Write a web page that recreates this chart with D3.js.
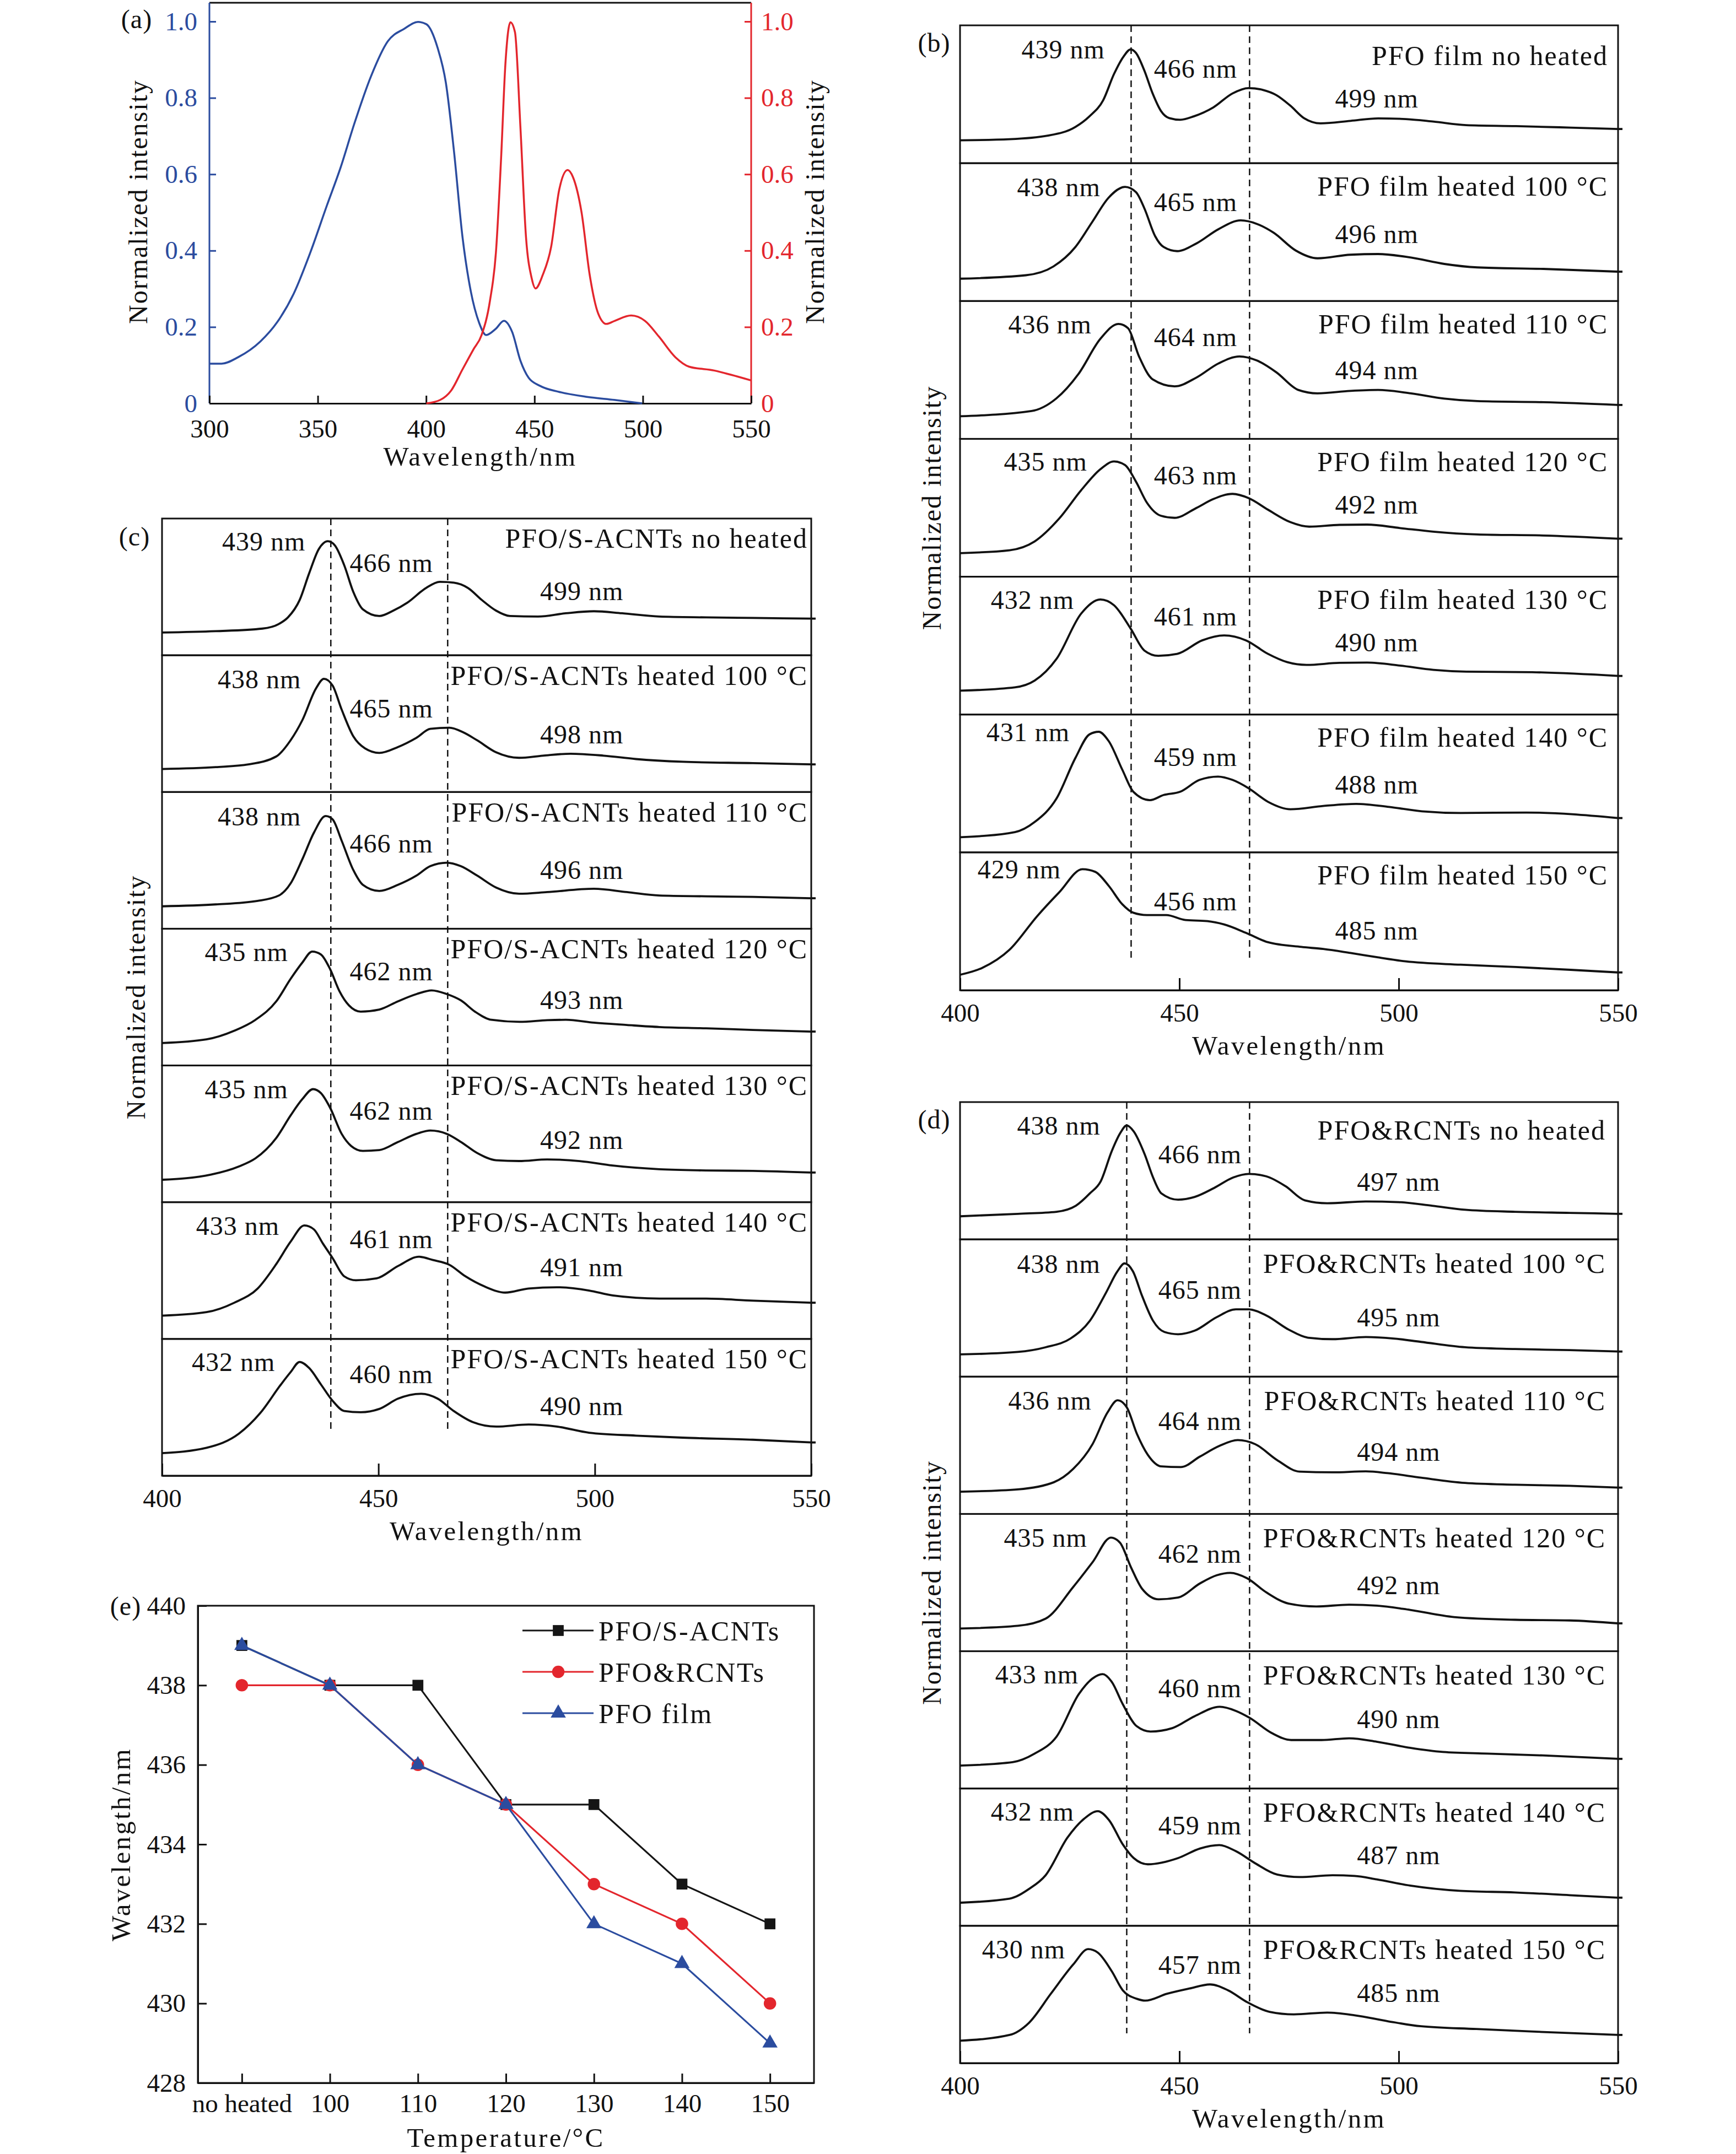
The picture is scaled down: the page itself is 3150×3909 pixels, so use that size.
<!DOCTYPE html>
<html>
<head>
<meta charset="utf-8">
<script src="https://cdn.jsdelivr.net/npm/d3@7"></script>
<style>
body { margin: 0; background: #fff; }
</style>
</head>
<body>
<svg></svg>
<script>
// ---- data ----
// (a) absorption (blue) and PL (red), normalized
const absorption = [[300,.104],[305.6,.104],[313.3,.121],[323.5,.162],[331.2,.212],[338.8,.286],[346.5,.394],[354.2,.518],[360.5,.617],[366.9,.733],[374.6,.857],[382.3,.948],[389.9,.981],[396.3,.999],[400.1,.993],[405.3,.931],[409.1,.84],[412.9,.658],[416.8,.435],[420.6,.294],[424.4,.212],[427.7,.179],[432.1,.195],[435.9,.216],[439.7,.187],[443.5,.112],[447.3,.067],[452.5,.046],[461.4,.03],[474.2,.017],[486.9,.009],[499.7,0]]
const emission = [[400.1,0],[406.5,.009],[411.6,.034],[416.7,.088],[421.8,.141],[425.6,.179],[429.5,.27],[432.2,.394],[434.6,.642],[436.6,.89],[438.9,.998],[441,.972],[443.5,.725],[446.1,.435],[448.7,.328],[450.5,.301],[453.8,.336],[457.7,.41],[461.4,.559],[465.3,.611],[467.8,.592],[471.7,.501],[475.5,.336],[479.3,.237],[483.2,.208],[487,.216],[494.6,.23],[501,.216],[507.4,.175],[515,.121],[521.4,.096],[532.9,.086],[540.6,.075],[550,.06]]

const conditions = ["no heated", "heated 100 °C", "heated 110 °C", "heated 120 °C", "heated 130 °C", "heated 140 °C", "heated 150 °C"]

// (b) PFO film, stacked spectra (0 = bottom of its strip, 1 = top)
const filmSpectra = [
  [[400,.166],[411.3,.174],[420,.2],[426.3,.263],[429.5,.34],[432.6,.455],[435.1,.647],[437.3,.775],[438.9,.826],[440.1,.8],[442,.673],[443.9,.506],[445.8,.379],[447.7,.327],[450.2,.315],[453.3,.34],[457.7,.404],[462.1,.506],[465.8,.545],[469,.532],[472.1,.494],[475.3,.417],[478.4,.327],[482.2,.289],[489,.307],[495.3,.325],[501.6,.32],[507.9,.302],[515.4,.276],[526.7,.269],[539.2,.258],[550,.248]],
  [[400,.162],[415,.187],[421.3,.251],[426.3,.392],[430.1,.572],[433.9,.751],[437.6,.828],[440.1,.79],[442,.674],[444.5,.469],[446.4,.392],[449.5,.362],[453.9,.418],[458.9,.521],[464,.585],[467.7,.559],[471.5,.495],[476.5,.367],[481.5,.31],[489,.336],[495.3,.341],[502.8,.315],[510.4,.269],[517.9,.244],[533,.233],[550,.213]],
  [[400,.164],[416.3,.202],[421.9,.292],[427,.471],[432,.726],[436.1,.834],[438.3,.803],[440.8,.598],[443.9,.432],[448.9,.381],[453.9,.445],[458.9,.547],[463.7,.598],[467.7,.568],[472.1,.483],[477.1,.355],[481.5,.33],[489,.348],[495.3,.355],[502.8,.33],[510.4,.292],[517.9,.274],[533,.266],[550,.246]],
  [[400,.171],[411.3,.192],[417,.256],[422.6,.422],[427.6,.627],[432,.78],[435.1,.836],[437.6,.81],[440.1,.69],[442.6,.537],[445.8,.442],[448.9,.427],[453.9,.499],[457.7,.563],[462.1,.601],[465.8,.57],[470.2,.486],[475.3,.396],[479.6,.363],[486.5,.376],[492.8,.378],[500.3,.353],[507.9,.327],[517.9,.307],[533,.299],[550,.276]],
  [[400,.173],[412.5,.197],[417,.246],[422,.404],[427.6,.732],[432,.835],[435.1,.793],[438.9,.623],[442,.465],[445.2,.426],[449.5,.44],[455.2,.538],[460.2,.574],[465.2,.538],[470.2,.44],[474.6,.38],[479,.36],[486.5,.375],[492.8,.377],[500.3,.355],[507.9,.324],[515.4,.311],[530.4,.307],[550,.28]],
  [[400,.11],[412.5,.147],[417,.22],[422,.391],[426.3,.685],[429.5,.856],[431.6,.875],[433.9,.807],[437,.599],[439.5,.44],[443.3,.379],[446.4,.416],[450.2,.44],[454.6,.526],[458.8,.55],[462.1,.526],[465.8,.465],[470.2,.367],[475.3,.313],[482.8,.337],[490.3,.352],[497.8,.33],[505.3,.298],[514.1,.286],[529.1,.289],[550,.249]],
  [[400,.112],[405,.161],[411.3,.294],[417.6,.538],[422.6,.71],[427.9,.878],[430.8,.859],[433.9,.757],[437,.623],[439.5,.562],[442.6,.545],[447,.545],[451.4,.509],[456.4,.501],[460.2,.477],[465.2,.416],[470.2,.348],[477.8,.314],[482.8,.299],[489,.27],[495.3,.238],[501.6,.209],[514.1,.185],[526.7,.168],[539.2,.148],[550,.129]]
]
const filmPeaks = [[439,466,499],[438,465,496],[436,464,494],[435,463,492],[432,461,490],[431,459,488],[429,456,485]]

// (c) PFO/S-ACNTs
const sacntSpectra = [
  [[400,.166],[412.4,.176],[423.2,.195],[427,.229],[429.1,.277],[431.8,.404],[434,.6],[436.2,.775],[438.3,.834],[439.9,.805],[442.1,.658],[444.2,.463],[446.4,.336],[450.2,.287],[453.4,.326],[456.7,.385],[461,.492],[464.2,.537],[467.4,.531],[470.7,.492],[473.9,.404],[477.2,.326],[480.4,.287],[486.9,.283],[493.3,.307],[499.8,.322],[506.3,.307],[514.9,.283],[525.7,.277],[536.5,.273],[550,.268]],
  [[400,.168],[412.4,.182],[420,.202],[426.4,.26],[429.7,.378],[432.4,.524],[435.6,.759],[437.4,.828],[439.4,.779],[441.5,.603],[444.2,.407],[446.9,.319],[450.2,.286],[454.5,.329],[458.8,.397],[462,.462],[466.4,.47],[469.6,.436],[472.8,.378],[477.2,.29],[482.5,.25],[488,.266],[494.4,.28],[502,.266],[509.5,.241],[520.3,.221],[536.5,.211],[550,.202]],
  [[400,.164],[412.4,.178],[422.1,.204],[427,.243],[429.7,.331],[432.4,.507],[435.1,.703],[437.8,.824],[439.4,.8],[441.5,.644],[444.2,.429],[446.4,.321],[450.2,.276],[454.5,.321],[458.8,.389],[462,.458],[465.8,.483],[469,.458],[472.8,.389],[477.2,.301],[482.5,.256],[489,.268],[499.8,.292],[507.4,.268],[514.9,.243],[525.7,.237],[536.5,.233],[550,.223]],
  [[400,.164],[410.3,.191],[416.7,.254],[421.6,.334],[426.4,.469],[429.7,.633],[432.4,.752],[434.7,.833],[436.7,.812],[438.8,.707],[441,.543],[443.2,.439],[445.9,.394],[450.2,.409],[454.5,.469],[458.8,.522],[462.3,.549],[465.8,.522],[469.1,.475],[472.3,.394],[476.1,.334],[482.6,.319],[489,.331],[493.3,.334],[499.8,.313],[507.4,.296],[514.9,.281],[525.7,.272],[536.5,.26],[550,.248]],
  [[400,.164],[411.3,.202],[417.8,.262],[421.6,.321],[426.4,.47],[429.7,.634],[432.4,.753],[434.9,.827],[436.7,.798],[438.8,.693],[441.5,.5],[443.7,.411],[446.4,.375],[450.2,.381],[454.5,.44],[458.8,.5],[462,.524],[465.8,.5],[469.1,.44],[472.8,.36],[477.2,.307],[482.5,.301],[489,.313],[496.5,.301],[504.1,.268],[514.9,.241],[525.7,.232],[536.5,.229],[550,.217]],
  [[400,.17],[410.3,.196],[416.7,.265],[422.1,.369],[426.4,.548],[429.7,.711],[432.9,.83],[435.1,.801],[437.2,.696],[439.4,.592],[442.1,.458],[444.8,.429],[449.6,.443],[454.5,.533],[459.4,.601],[462.6,.577],[466.4,.542],[470.1,.458],[474.5,.384],[479.3,.339],[484.7,.369],[491.2,.378],[498.7,.354],[504.1,.318],[514.9,.295],[525.7,.295],[536.5,.28],[550,.265]],
  [[400,.165],[410.3,.204],[417.8,.308],[422.7,.458],[427.5,.668],[429.7,.757],[431.8,.832],[434,.787],[436.7,.668],[439.4,.548],[442.1,.473],[445.9,.464],[450.2,.488],[454.5,.563],[459.9,.599],[463.7,.563],[467.4,.473],[471.8,.392],[477.2,.359],[484.7,.374],[491.2,.359],[498.7,.314],[509.5,.293],[520.3,.278],[536.5,.263],[550,.243]]
]
const sacntPeaks = [[439,466,499],[438,465,498],[438,466,496],[435,462,493],[435,462,492],[433,461,491],[432,460,490]]

// (d) PFO&RCNTs
const rcntSpectra = [
  [[400,.168],[413.2,.186],[422,.201],[426.4,.245],[429.6,.335],[432.1,.425],[434.6,.644],[436.5,.773],[438,.83],[439.6,.786],[442.1,.619],[444,.451],[445.9,.335],[449.7,.289],[453.5,.309],[457.9,.374],[462.3,.451],[465.8,.477],[469.8,.459],[474.2,.387],[478.6,.284],[483.7,.263],[492.5,.276],[500,.271],[507.6,.245],[515.1,.216],[526.5,.201],[539,.193],[550,.186]],
  [[400,.162],[413.2,.18],[419.5,.214],[425.2,.278],[429.6,.407],[433.3,.613],[435.9,.768],[437.5,.825],[439.4,.768],[441.5,.588],[444,.407],[446.6,.325],[449.7,.309],[453.5,.335],[458.5,.433],[462.9,.49],[465.8,.49],[469.8,.446],[474.9,.343],[479.3,.284],[484.9,.273],[492.5,.289],[498.8,.278],[505.1,.253],[515.1,.214],[526.5,.201],[539,.193],[550,.183]],
  [[400,.162],[413.2,.179],[421.4,.231],[425.8,.328],[430.2,.508],[433.6,.738],[435.9,.828],[438,.777],[440.3,.585],[442.8,.431],[445.9,.346],[450.3,.341],[454.7,.418],[459.1,.495],[463.3,.538],[467.3,.508],[472.3,.392],[477.4,.308],[484.9,.303],[492.5,.31],[497.5,.297],[505.1,.264],[515.1,.226],[526.5,.213],[539,.205],[550,.192]],
  [[400,.165],[413.2,.185],[419.5,.237],[425.8,.468],[430.2,.648],[434.4,.828],[436.5,.789],[439,.609],[441.5,.455],[445.3,.378],[449.7,.391],[454.7,.494],[458.5,.553],[461.6,.571],[465.4,.532],[469.8,.429],[474.9,.347],[481.2,.326],[488.7,.339],[495,.332],[502.6,.301],[512.6,.249],[526.5,.229],[539,.224],[550,.203]],
  [[400,.167],[412,.192],[417,.254],[422,.378],[427.1,.689],[430.2,.801],[432.5,.833],[434.6,.776],[437.1,.614],[440.3,.453],[443.4,.415],[448.4,.44],[453.5,.527],[459.2,.595],[462.9,.565],[466,.515],[471.1,.403],[475.5,.353],[482.4,.353],[488.7,.366],[495,.341],[502.6,.296],[510.1,.266],[520.2,.254],[532.8,.241],[550,.216]],
  [[400,.168],[411.3,.198],[415.7,.268],[419.5,.368],[424.5,.643],[428.3,.78],[431.4,.835],[434,.768],[437.1,.593],[439.6,.493],[442.8,.448],[449.7,.493],[454.7,.563],[459.1,.588],[462.9,.543],[467.3,.455],[472.3,.373],[477.4,.355],[484.9,.368],[489.9,.363],[495,.338],[502.6,.293],[513.9,.255],[526.5,.243],[539,.223],[550,.205]],
  [[400,.163],[411.3,.205],[415.7,.293],[420.7,.505],[425.8,.718],[429.2,.83],[431.4,.805],[434.6,.668],[437.1,.53],[440.3,.468],[442.2,.455],[447.2,.505],[452.3,.543],[457,.573],[461.1,.53],[465.5,.443],[470.6,.373],[476.1,.355],[483.7,.368],[490,.348],[497.5,.305],[505.1,.268],[517.7,.248],[530.2,.23],[550,.205]]
]
const rcntPeaks = [[438,466,497],[438,465,495],[436,464,494],[435,462,492],[433,460,490],[432,459,487],[430,457,485]]

// (e) main peak position vs temperature
const temperatures = ["no heated", "100", "110", "120", "130", "140", "150"]
const sacntShift = [439, 438, 438, 435, 435, 433, 432]
const rcntShift = [438, 438, 436, 435, 433, 432, 430]
const filmShift = [439, 438, 436, 435, 432, 431, 429]

// ---- drawing ----
const width = 3150
const height = 3909
const font = '"Liberation Serif", "Times New Roman", serif'
const blue = "#2b4c9f"
const red = "#e3262d"
const ink = "#111"

const svg = d3.select("svg")
  .attr("width", width)
  .attr("height", height)
  .attr("viewBox", [0, 0, width, height])
  .attr("font-family", font)

svg.append("rect").attr("width", width).attr("height", height).attr("fill", "#fff")

function txt(x, y, s, opt = {}) {
  const t = svg.append("text")
    .attr("x", x).attr("y", y)
    .attr("dy", "0.35em")
    .attr("font-size", opt.size || 48)
    .attr("letter-spacing", opt.ls == null ? 1 : opt.ls)
    .attr("text-anchor", opt.anchor || "middle")
    .attr("fill", opt.fill || ink)
    .text(s)
  if (opt.rotate) t.attr("transform", `rotate(-90,${x},${y})`)
  return t
}
// axis titles are a little wider in the original
const title = { size: 49, ls: 3.3 }

function styleAxis(g, color) {
  g.attr("font-family", font).attr("font-size", 47).attr("color", color)
  g.selectAll("line").attr("stroke-width", 3)
  g.selectAll("path").attr("stroke-width", 3)
}

const bis = d3.bisector(d => d[0]).left
function valueAt(s, w) {
  const i = Math.max(1, Math.min(s.length - 1, bis(s, w)))
  const a = s[i - 1], b = s[i]
  return a[1] + (w - a[0]) / (b[0] - a[0]) * (b[1] - a[1])
}

// ---------- (a) ----------
{
  const L = 380, R = 1363, T = 5, B = 732
  const x = d3.scaleLinear().domain([300, 550]).range([L, R])
  const y = d3.scaleLinear().domain([0, 1]).range([B, 39])
  const fmt = d => d === 0 ? "0" : d.toFixed(1)

  svg.append("line").attr("x1", L).attr("x2", R).attr("y1", T).attr("y2", T)
    .attr("stroke", ink).attr("stroke-width", 3)

  const gl = svg.append("g").attr("transform", `translate(${L},0)`)
    .call(d3.axisLeft(y).tickValues([0, .2, .4, .6, .8, 1]).tickFormat(fmt)
      .tickSizeInner(-12).tickSizeOuter(0).tickPadding(22))
  styleAxis(gl, blue)
  gl.select(".domain").attr("d", `M0,${B}V${T}`)

  const gr = svg.append("g").attr("transform", `translate(${R},0)`)
    .call(d3.axisRight(y).tickValues([0, .2, .4, .6, .8, 1]).tickFormat(fmt)
      .tickSizeInner(-12).tickSizeOuter(0).tickPadding(18))
  styleAxis(gr, red)
  gr.select(".domain").attr("d", `M0,${B}V${T}`)

  const gb = svg.append("g").attr("transform", `translate(0,${B})`)
    .call(d3.axisBottom(x).tickValues([300, 350, 400, 450, 500, 550])
      .tickSizeInner(-14).tickSizeOuter(0).tickPadding(29))
  styleAxis(gb, ink)

  const line = d3.line().x(d => x(d[0])).y(d => y(d[1])).curve(d3.curveMonotoneX)
  svg.append("path").datum(absorption).attr("d", line)
    .attr("fill", "none").attr("stroke", blue).attr("stroke-width", 3.5)
  svg.append("path").datum(emission).attr("d", line)
    .attr("fill", "none").attr("stroke", red).attr("stroke-width", 3.5)

  txt(248, 34, "(a)")
  txt(250, 366, "Normalized intensity", { rotate: true, ls: 2 })
  txt(1478, 366, "Normalized intensity", { rotate: true, ls: 2 })
  txt((L + R) / 2, 828, "Wavelength/nm", title)
}

// ---------- stacked spectra panels (b), (c), (d) ----------
function stackPanel(cfg, sample, spectra, peaks) {
  const x = d3.scaleLinear().domain([400, 550]).range([cfg.left, cfg.right])
  const n = spectra.length
  const h = (cfg.bottom - cfg.top) / n

  spectra.forEach((s, i) => {
    const top = cfg.top + i * h
    const bot = top + h
    const y = d3.scaleLinear().domain([0, 1]).range([bot, top])
    const line = d3.line().x(d => x(d[0])).y(d => y(d[1])).curve(d3.curveMonotoneX)

    svg.append("rect")
      .attr("x", cfg.left).attr("y", top)
      .attr("width", cfg.right - cfg.left).attr("height", h)
      .attr("fill", "none").attr("stroke", ink).attr("stroke-width", 3)

    svg.append("path").datum(s).attr("d", line)
      .attr("fill", "none").attr("stroke", ink).attr("stroke-width", 3.8)
      .attr("stroke-linejoin", "round")

    // little stub past the right frame
    const last = s[s.length - 1]
    svg.append("line")
      .attr("x1", x(last[0])).attr("x2", x(last[0]) + 8)
      .attr("y1", y(last[1])).attr("y2", y(last[1]))
      .attr("stroke", ink).attr("stroke-width", 3.8)

    const [p1, p2, p3] = peaks[i]
    const top1 = d3.max(s, d => d[1])
    txt(x(p1 - 15.5), y(top1), `${p1} nm`)
    txt(x(cfg.mid2), y(valueAt(s, p2)) - 36, `${p2} nm`)
    txt(x(cfg.mid3), y(valueAt(s, p3)) - 37, `${p3} nm`)
    txt(cfg.right - cfg.inset, top + (i === 0 ? cfg.condDy0 : cfg.condDy),
      `${sample} ${conditions[i]}`, { anchor: "end", size: 50, ls: 2 })
  })

  cfg.dash.forEach(w => {
    svg.append("line")
      .attr("x1", x(w)).attr("x2", x(w))
      .attr("y1", cfg.top).attr("y2", cfg.dashEnd)
      .attr("stroke", ink).attr("stroke-width", 2.5)
      .attr("stroke-dasharray", "12,8")
  })

  const gb = svg.append("g").attr("transform", `translate(0,${cfg.bottom})`)
    .call(d3.axisBottom(x).tickValues([400, 450, 500, 550])
      .tickSizeInner(-22).tickSizeOuter(0).tickPadding(24))
  styleAxis(gb, ink)

  txt(cfg.tagX, cfg.tagY, cfg.tag)
  txt(cfg.ylabX, (cfg.top + cfg.bottom) / 2, "Normalized intensity", { rotate: true, ls: 2 })
  txt((cfg.left + cfg.right) / 2, cfg.bottom + 100, "Wavelength/nm", title)
}

stackPanel({ left: 1742, right: 2936, top: 46, bottom: 1797, dash: [439, 466], dashEnd: 1741,
  mid2: 453.7, mid3: 495, inset: 18, condDy0: 54, condDy: 41, tag: "(b)", tagX: 1695, tagY: 77, ylabX: 1690 },
  "PFO film", filmSpectra, filmPeaks)

stackPanel({ left: 294, right: 1472, top: 941, bottom: 2678, dash: [439, 466], dashEnd: 2601,
  mid2: 453, mid3: 497, inset: 6, condDy0: 35, condDy: 36, tag: "(c)", tagX: 244, tagY: 973, ylabX: 246 },
  "PFO/S-ACNTs", sacntSpectra, sacntPeaks)

stackPanel({ left: 1742, right: 2936, top: 2000, bottom: 3744, dash: [438, 466], dashEnd: 3690,
  mid2: 454.7, mid3: 500, inset: 22, condDy0: 50, condDy: 43, tag: "(d)", tagX: 1695, tagY: 2031, ylabX: 1690 },
  "PFO&RCNTs", rcntSpectra, rcntPeaks)

// ---------- (e) ----------
{
  const L = 359, R = 1477, T = 2914, B = 3780
  const x = d3.scalePoint().domain(temperatures).range([L, R]).padding(0.5)
  const y = d3.scaleLinear().domain([428, 440]).range([B, T])

  svg.append("rect").attr("x", L).attr("y", T).attr("width", R - L).attr("height", B - T)
    .attr("fill", "none").attr("stroke", ink).attr("stroke-width", 3)

  const gl = svg.append("g").attr("transform", `translate(${L},0)`)
    .call(d3.axisLeft(y).tickValues(d3.range(428, 441, 2))
      .tickSizeInner(-16).tickSizeOuter(0).tickPadding(22))
  styleAxis(gl, ink)
  const gb = svg.append("g").attr("transform", `translate(0,${B})`)
    .call(d3.axisBottom(x).tickSizeInner(-17).tickSizeOuter(0).tickPadding(20))
  styleAxis(gb, ink)

  const series = [
    { name: "PFO/S-ACNTs", values: sacntShift, color: "#151515", sym: d3.symbolSquare, size: 390 },
    { name: "PFO&RCNTs", values: rcntShift, color: red, sym: d3.symbolCircle, size: 400 },
    { name: "PFO film", values: filmShift, color: blue, sym: d3.symbolTriangle, size: 330 }
  ]
  const line = d3.line().x((d, i) => x(temperatures[i])).y(d => y(d))

  series.forEach(s => {
    svg.append("path").datum(s.values).attr("d", line)
      .attr("fill", "none").attr("stroke", s.color).attr("stroke-width", 3.2)
    svg.append("g").selectAll("path").data(s.values).join("path")
      .attr("transform", (d, i) => `translate(${x(temperatures[i])},${y(d)})`)
      .attr("d", d3.symbol(s.sym, s.size))
      .attr("fill", s.color)
  })

  // legend
  series.forEach((s, i) => {
    const ly = 2959 + i * 75
    svg.append("line").attr("x1", 948).attr("x2", 1077).attr("y1", ly).attr("y2", ly)
      .attr("stroke", s.color).attr("stroke-width", 3.2)
    svg.append("path").attr("transform", `translate(1013,${ly})`)
      .attr("d", d3.symbol(s.sym, s.size)).attr("fill", s.color)
    txt(1086, ly, s.name, { anchor: "start", size: 50, ls: 2.5 })
  })

  txt(228, 2914, "(e)")
  txt(219, (T + B) / 2, "Wavelength/nm", Object.assign({ rotate: true }, title))
  txt((L + R) / 2, 3879, "Temperature/°C", title)
}
</script>
</body>
</html>
